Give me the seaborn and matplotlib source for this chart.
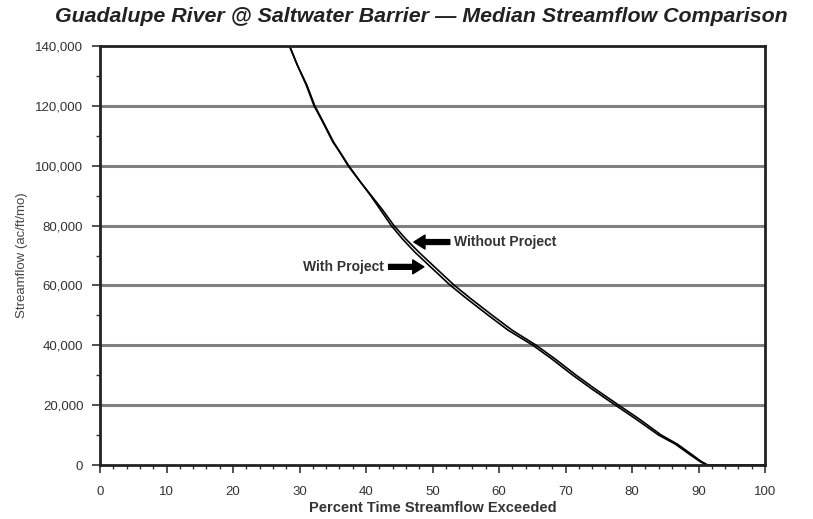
import matplotlib
matplotlib.use("Agg")
import matplotlib.pyplot as plt
import matplotlib.ticker as mticker
import seaborn as sns
import pandas as pd

# ---- data ----
title = "Guadalupe River @ Saltwater Barrier \u2014 Median Streamflow Comparison"
x_label = "Percent Time Streamflow Exceeded"
y_label = "Streamflow (ac/ft/mo)"

pct_without = [27.0, 28.5, 29.6, 31.0, 32.2, 33.4, 35.0, 36.2, 37.3, 39.0, 40.8, 42.4, 44.2,
               46.0, 48.0, 50.4, 53.3, 55.8, 59.0, 62.0, 65.6, 68.4, 71.6, 74.4, 78.0,
               81.0, 84.4, 86.8, 89.0, 90.4, 91.4, 100.0]
flow_without = [147000, 140000, 134000, 127000, 120000, 115000, 108000, 104000, 100000, 95000,
                90000, 85500, 80000, 75500, 71000, 66000, 60000, 55500, 50000, 45000, 40000,
                35500, 30000, 25500, 20000, 15500, 10000, 7000, 3500, 1200, 0, 0]

pct_with = [27.0, 28.5, 29.7, 31.1, 32.3, 33.6, 35.1, 36.4, 37.4, 39.2, 40.7, 42.1, 43.8,
            45.5, 47.4, 49.8, 52.7, 55.2, 58.4, 61.4, 65.1, 67.9, 71.1, 73.9, 77.5,
            80.5, 84.0, 86.5, 88.7, 90.2, 91.2, 100.0]
flow_with = [147000, 140000, 133500, 127000, 120000, 114500, 108000, 103500, 100000, 94500,
             90000, 85500, 80000, 75500, 71000, 66000, 60000, 55500, 50000, 45000, 40000,
             35500, 30000, 25500, 20000, 15500, 10000, 7000, 3500, 1200, 0, 0]

annot_without = "Without Project"
annot_with = "With Project"

x_ticks = list(range(0, 101, 10))
y_ticks = list(range(0, 140001, 20000))

df = pd.concat([
    pd.DataFrame({"pct": pct_without, "flow": flow_without, "series": annot_without}),
    pd.DataFrame({"pct": pct_with, "flow": flow_with, "series": annot_with}),
])

sns.set_theme(style="white")
plt.rcParams["font.family"] = ["Liberation Sans", "DejaVu Sans"]

W, H = 813, 519
fig = plt.figure(figsize=(W / 100, H / 100), dpi=100)
ax = fig.add_axes([100 / W, 1 - 465 / H, (765 - 100) / W, (465 - 46) / H])

for name in [annot_without, annot_with]:
    sub = df[df["series"] == name]
    sns.lineplot(data=sub, x="pct", y="flow", ax=ax, color="black", lw=1.2,
                 sort=False, estimator=None, legend=False)

ax.set_xlim(0, 100)
ax.set_ylim(0, 140000)
ax.set_xticks(x_ticks)
ax.set_yticks(y_ticks)
ax.xaxis.set_minor_locator(mticker.MultipleLocator(2))
ax.yaxis.set_minor_locator(mticker.MultipleLocator(10000))
ax.yaxis.set_major_formatter(mticker.FuncFormatter(lambda v, p: f"{int(v):,}"))

for yv in y_ticks[1:-1]:
    ax.axhline(yv, color="#808080", lw=2.2, zorder=0)

for s in ax.spines.values():
    s.set_color("#222222")
    s.set_linewidth(2)

ax.tick_params(axis="both", which="major", direction="out", length=6, width=1.2,
               color="#333333", labelsize=9.5, labelcolor="#333333", pad=6)
ax.tick_params(axis="x", which="major", pad=9)
ax.tick_params(axis="both", which="minor", direction="out", length=3, width=1,
               color="#333333")
ax.tick_params(axis="x", which="both", bottom=True)
ax.tick_params(axis="y", which="both", left=True)

ax.set_xlabel(x_label, fontsize=10.5, color="#333333", weight="bold", labelpad=2)
ax.set_ylabel(y_label, fontsize=9.5, color="#444444", labelpad=5)

# annotations
arrow_kw = dict(facecolor="black", edgecolor="black", width=3.5, headwidth=10,
                headlength=8, shrink=0)
ax.annotate("", xy=(47.2, 74500), xytext=(52.6, 74500), arrowprops=arrow_kw)
ax.text(53.2, 74500, annot_without, ha="left", va="center", fontsize=10,
        weight="bold", color="#333333")
ax.annotate("", xy=(48.7, 66200), xytext=(43.4, 66200), arrowprops=arrow_kw)
ax.text(42.7, 66200, annot_with, ha="right", va="center", fontsize=10,
        weight="bold", color="#333333")

fig.text(55 / W, 1 - 17 / H, title, ha="left", va="center", fontsize=15.4,
         weight="bold", style="italic", color="#222222")

fig.savefig("out.png", dpi=100)
